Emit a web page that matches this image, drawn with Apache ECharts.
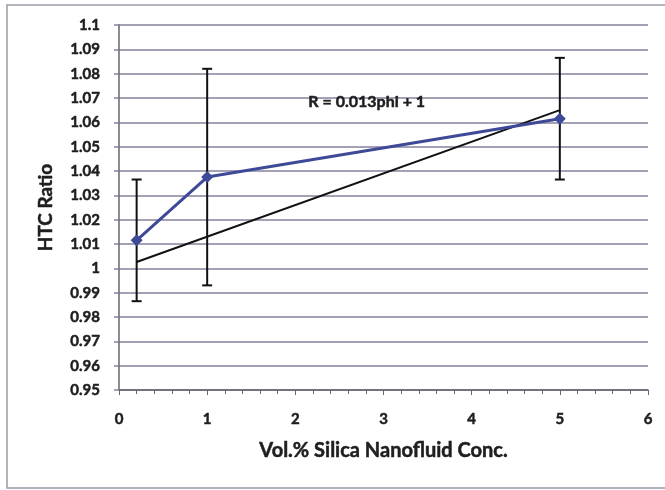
<!DOCTYPE html>
<html>
<head>
<meta charset="utf-8">
<script src="https://cdn.jsdelivr.net/npm/echarts@6/dist/echarts.min.js"></script>
<style>
  html, body { margin: 0; padding: 0; background: #ffffff; }
  #chart { width: 665px; height: 490px; }
</style>
</head>
<body>
<div id="chart"></div>
<script>
// Silica nanofluid concentration (vol.%) and measured heat transfer coefficient ratio
const concentration = [0.2, 1, 5];
const htcRatio = [1.0115, 1.0375, 1.0615];
const htcError = [0.025, 0.0445, 0.025];

// Linear fit R = 0.013phi + 1, drawn across the measured range
const fitSlope = 0.013;
const fitIntercept = 1;
const fitRange = [0.2, 5];
const fitLabel = 'R = 0.013phi + 1';

const xAxisRange = [0, 6];
const yAxisRange = [0.95, 1.1];

const measured = concentration.map((c, i) => [c, htcRatio[i]]);
const errorBars = concentration.map((c, i) => [c, htcRatio[i] - htcError[i], htcRatio[i] + htcError[i]]);
const fitLine = fitRange.map(c => [c, fitSlope * c + fitIntercept]);

const font = 'Lato, "Open Sans", sans-serif';
const gridColor = '#85829a';
const textColor = '#1e1e1e';
// slightly heavier strokes for all text
const heavy = { textBorderColor: textColor, textBorderWidth: 0.5 };

const chart = echarts.init(document.getElementById('chart'));
chart.setOption({
  animation: false,
  backgroundColor: '#ffffff',
  grid: { left: 119, right: 17, top: 25, bottom: 100 },
  graphic: [{
    type: 'rect',
    shape: { x: 7, y: 5, width: 670, height: 483 },
    style: { fill: 'none', stroke: '#9a9aa8', lineWidth: 1.5 },
    silent: true
  }],
  xAxis: {
    type: 'value',
    min: xAxisRange[0], max: xAxisRange[1], interval: 1,
    axisLine: { show: true, lineStyle: { color: '#66666e', width: 1.5 } },
    axisTick: { show: true, length: 5, lineStyle: { color: '#66666e' } },
    minorTick: { show: true, splitNumber: 5, length: 4, lineStyle: { color: '#66666e' } },
    splitLine: { show: false },
    axisLabel: { color: textColor, fontFamily: font, fontWeight: 'bold', fontSize: 15, margin: 22, ...heavy },
    name: 'Vol.% Silica Nanofluid Conc.',
    nameLocation: 'middle', nameGap: 51,
    nameTextStyle: { color: textColor, fontFamily: font, fontWeight: 'bold', fontSize: 20, ...heavy }
  },
  yAxis: {
    type: 'value',
    min: yAxisRange[0], max: yAxisRange[1], interval: 0.01,
    axisLine: { show: true, lineStyle: { color: '#66666e', width: 1.5 } },
    axisTick: { show: true, length: 5, lineStyle: { color: gridColor, width: 1.5 } },
    splitLine: { show: true, lineStyle: { color: gridColor, width: 1.5 } },
    axisLabel: {
      color: textColor, fontFamily: font, fontWeight: 'bold', fontSize: 15, margin: 19, ...heavy,
      formatter: v => String(+v.toFixed(2))
    },
    name: 'HTC Ratio',
    nameLocation: 'middle', nameGap: 64, nameRotate: 90,
    nameTextStyle: { color: textColor, fontFamily: font, fontWeight: 'bold', fontSize: 19, ...heavy }
  },
  series: [
    {
      name: 'Fit',
      type: 'line',
      data: fitLine,
      symbol: 'none',
      lineStyle: { color: '#111111', width: 2 },
      z: 3,
      markPoint: {
        symbol: 'rect', symbolSize: 0,
        data: [{ coord: [2.81, 1.0684], value: fitLabel }],
        label: {
          show: true, formatter: fitLabel, color: textColor,
          fontFamily: font, fontWeight: 'bold', fontSize: 16, ...heavy
        }
      }
    },
    {
      name: 'Error',
      type: 'custom',
      data: errorBars,
      z: 4,
      renderItem: (params, api) => {
        const x = api.value(0);
        const lo = api.coord([x, api.value(1)]);
        const hi = api.coord([x, api.value(2)]);
        const cap = 5;
        const style = { stroke: '#111111', lineWidth: 2 };
        return {
          type: 'group',
          children: [
            { type: 'line', shape: { x1: lo[0], y1: lo[1], x2: hi[0], y2: hi[1] }, style },
            { type: 'line', shape: { x1: lo[0] - cap, y1: lo[1], x2: lo[0] + cap, y2: lo[1] }, style },
            { type: 'line', shape: { x1: hi[0] - cap, y1: hi[1], x2: hi[0] + cap, y2: hi[1] }, style }
          ]
        };
      },
      encode: { x: 0, y: [1, 2] }
    },
    {
      name: 'HTC Ratio',
      type: 'line',
      data: measured,
      symbol: 'diamond',
      symbolSize: 12,
      lineStyle: { color: '#3e4a98', width: 3 },
      itemStyle: { color: '#3e4a98' },
      z: 5
    }
  ]
});
</script>
</body>
</html>
